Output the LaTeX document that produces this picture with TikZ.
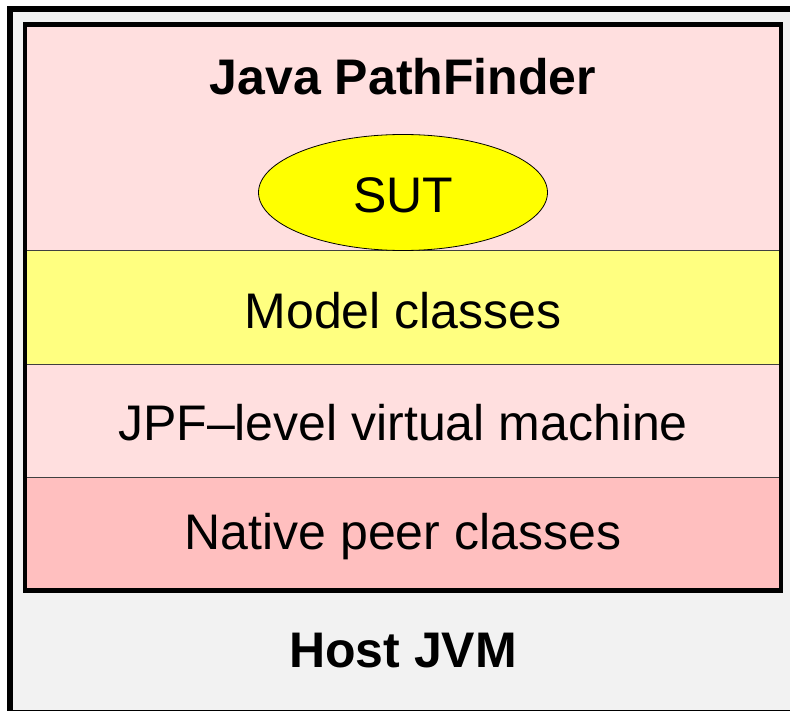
\documentclass[tikz,border=0pt]{standalone}
\usepackage{fontspec}
\setmainfont{Liberation Sans}
\usetikzlibrary{shapes.geometric}
\definecolor{pinkbg}{HTML}{FFDFDF}
\definecolor{modelyel}{HTML}{FFFF80}
\definecolor{sutyel}{HTML}{FFFF00}
\definecolor{nativepk}{HTML}{FFBFBF}
\definecolor{hostgray}{HTML}{F2F2F2}
\definecolor{sepline}{HTML}{404040}
\tikzset{
  lbl/.style={font=\fontsize{50}{60}\selectfont, inner sep=0pt, anchor=center},
  blbl/.style={lbl, font=\fontsize{50}{60}\selectfont\bfseries},
  layer/.style={draw=sepline, line width=1pt},
}
\begin{document}
\begin{tikzpicture}[x=1pt,y=-1pt]
\useasboundingbox (0,0) rectangle (790,711);
\begin{scope}
\clip (0,0) rectangle (790,711);
% outer host JVM box
\draw[fill=hostgray, line width=6pt] (10,9.5) rectangle (805,712.5);
% layers
\fill[pinkbg] (25,24.5) rectangle (781,250.5);
\fill[modelyel] (25,250.5) rectangle (781,364);
\fill[pinkbg] (25,364) rectangle (781,477.5);
\fill[nativepk] (25,477.5) rectangle (781,590.5);
\draw[layer] (25,250.5) -- (781,250.5);
\draw[layer] (25,364) -- (781,364);
\draw[layer] (25,477.5) -- (781,477.5);
\draw[line width=4.6pt] (25,24.5) rectangle (781,590.5);
\end{scope}
\node[ellipse, draw=black, line width=0.8pt, fill=sutyel, minimum width=289pt, minimum height=116pt, inner sep=0pt] (sut) at (403,192.5) {};
\node[lbl] (sutl) at (403,195) {SUT};
\node[blbl] (jpf) at (403,77) {Java PathFinder};
\node[lbl] (model) at (403,311) {Model classes};
\node[lbl] (vm) at (403,423) {JPF–level virtual machine};
\node[lbl] (native) at (403,537) {Native peer classes};
\node[blbl] (host) at (403,651) {Host JVM};
\end{tikzpicture}
\end{document}
